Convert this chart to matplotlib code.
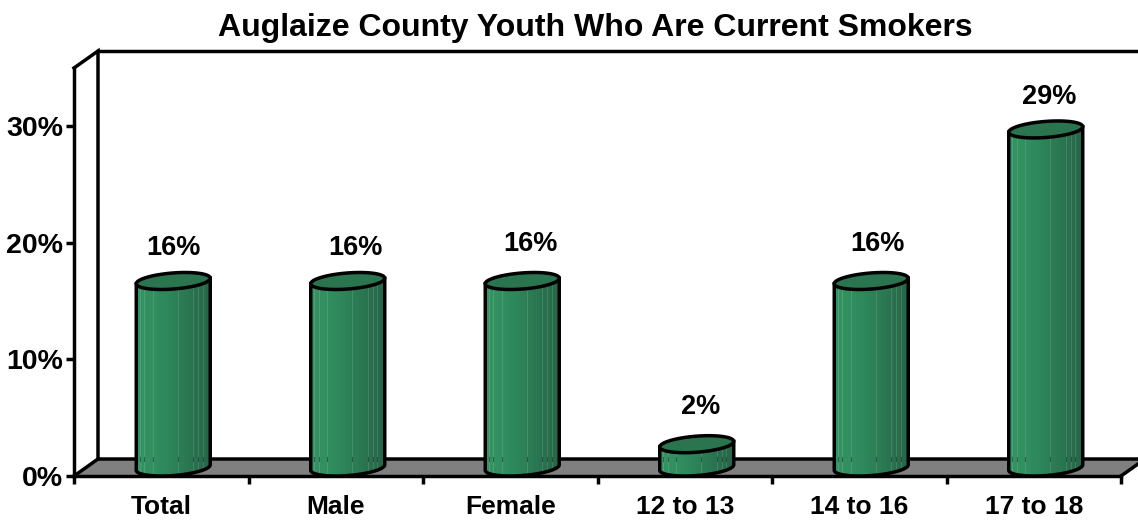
import matplotlib
matplotlib.use("Agg")
import matplotlib.pyplot as plt
import numpy as np

categories = ['Total', 'Male', 'Female', '12 to 13', '14 to 16', '17 to 18']
values = [16, 16, 16, 2, 16, 29]
value_labels = ['16%', '16%', '16%', '2%', '16%', '29%']
y_ticks = [0, 10, 20, 30]
y_tick_labels = ['0%', '10%', '20%', '30%']
title = 'Auglaize County Youth Who Are Current Smokers'

# where the light streaks fall across a cylinder, 0 = left edge, 1 = right edge
streaks = [0.05, 0.11, 0.22, 0.56, 0.77, 0.84, 0.90]
# hand nudges for the value labels (x in categories, y in percent)
label_dx = [0.0, 0.04, 0.045, 0.02, 0.035, 0.02]
label_dy = [0, 0, 0.35, 0.35, 0.35, 0]

plt.rcParams['font.family'] = ['Liberation Sans', 'DejaVu Sans']
plt.rcParams['font.weight'] = 'bold'

W, H = 1138, 522
fig = plt.figure(figsize=(W / 100, H / 100), dpi=100, facecolor='white')
ax = fig.add_axes([74 / W, (H - 476) / H, 1047 / W, 408 / H])
ax.set_xlim(0, 6)
ax.set_ylim(0, 35)
ax.patch.set_visible(False)

LW = 2.5
# depth of the 3D box, in data units
DX = 24 / (1047 / 6)
DY = 17 / (408 / 35)
BAR_R = 35 / (1047 / 6)
DARK = np.array([0.15, 0.39, 0.28])
MID = np.array([0.18, 0.54, 0.36])
LIGHT = np.array([0.21, 0.58, 0.39])


def side_colour(f):
    if f < 0.35:
        return LIGHT + (MID - LIGHT) * f / 0.35
    return MID + (DARK - MID) * (f - 0.35) / 0.65


# floor and back wall
ax.fill([0, 6, 6 + DX, DX], [0, 0, DY, DY], color='#808080', zorder=1, clip_on=False, lw=0)
ax.plot([0, DX, DX], [35, 35 + DY, DY], color='k', lw=LW, zorder=2, clip_on=False, solid_joinstyle='miter')
ax.plot([DX, 6 + DX], [35 + DY, 35 + DY], color='k', lw=LW, zorder=2, clip_on=False)
ax.plot([0, DX, 6 + DX], [0, DY, DY], color='k', lw=LW, zorder=2, clip_on=False, solid_joinstyle='miter')
ax.plot([6, 6 + DX], [0, DY], color='k', lw=LW, zorder=2, clip_on=False)

# cylinders
t = np.linspace(0, 2 * np.pi, 181)
for i, v in enumerate(values):
    cx = i + 0.5 + DX / 2
    cy0 = DY / 2
    cy1 = v + DY / 2
    ex = BAR_R * np.cos(t) + DX / 2 * np.sin(t)
    ey = DY / 2 * np.sin(t)

    # front half of the ellipse, left to right
    t0 = np.arctan2(DX / 2, BAR_R)
    tf = np.linspace(np.pi + t0, 2 * np.pi + t0, 91)
    fx = BAR_R * np.cos(tf) + DX / 2 * np.sin(tf)
    fy = DY / 2 * np.sin(tf)

    n = 40
    span = fx[-1] - fx[0]
    for k in range(n):
        a = fx[0] + span * k / n
        b = fx[0] + span * (k + 2) / n
        xs = np.linspace(a, min(b, fx[-1]), 6)
        low = np.interp(xs, fx, fy)
        ax.fill_between(cx + xs, cy0 + low, cy1 + low, color=side_colour(k / n), lw=0, zorder=3)

    for f in streaks:
        sx = fx[0] + span * f
        sy = np.interp(sx, fx, fy)
        ax.plot([cx + sx, cx + sx], [cy0 + sy, cy1 + sy], color='white', alpha=0.13, lw=0.7, zorder=4)
        # floor line showing through the streak
        if v > DY:
            ax.plot([cx + sx, cx + sx], [DY - 0.2, DY + 0.2], color='k', alpha=0.4, lw=0.7, zorder=4)

    # outline: sides and bottom, then the top face
    ox = np.r_[fx[0], fx, fx[-1]]
    oy = np.r_[cy1 + fy[0], cy0 + fy, cy1 + fy[-1]]
    ax.plot(cx + ox, oy, color='k', lw=LW, zorder=5, clip_on=False)
    ax.fill(cx + ex, cy1 + ey, facecolor='#2a7550', edgecolor='k', lw=LW, zorder=6, clip_on=False)

    ax.text(i + 0.5 + 0.07 + label_dx[i], v + 3.55 + label_dy[i], value_labels[i],
            ha='center', va='center', fontsize=19.5, fontweight='bold', zorder=7)

for side in ['top', 'right']:
    ax.spines[side].set_visible(False)
for side in ['left', 'bottom']:
    ax.spines[side].set_linewidth(LW)
    ax.spines[side].set_zorder(2.5)

ax.set_yticks(y_ticks)
ax.set_yticklabels(y_tick_labels, fontsize=20.5, fontweight='bold')
ax.set_xticks(range(7))
ax.set_xticklabels([])
ax.set_xticks(np.arange(6) + 0.5, minor=True)
ax.set_xticklabels(categories, minor=True, fontsize=19, fontweight='bold')
ax.tick_params(axis='y', length=6, width=LW, pad=2)
ax.tick_params(axis='x', which='major', length=6, width=LW)
ax.tick_params(axis='x', which='minor', length=0, pad=14)

fig.text(595 / W, (H - 28) / H, title, ha='center', va='center', fontsize=23, fontweight='bold')

fig.savefig('out.png', dpi=100, facecolor='white')
